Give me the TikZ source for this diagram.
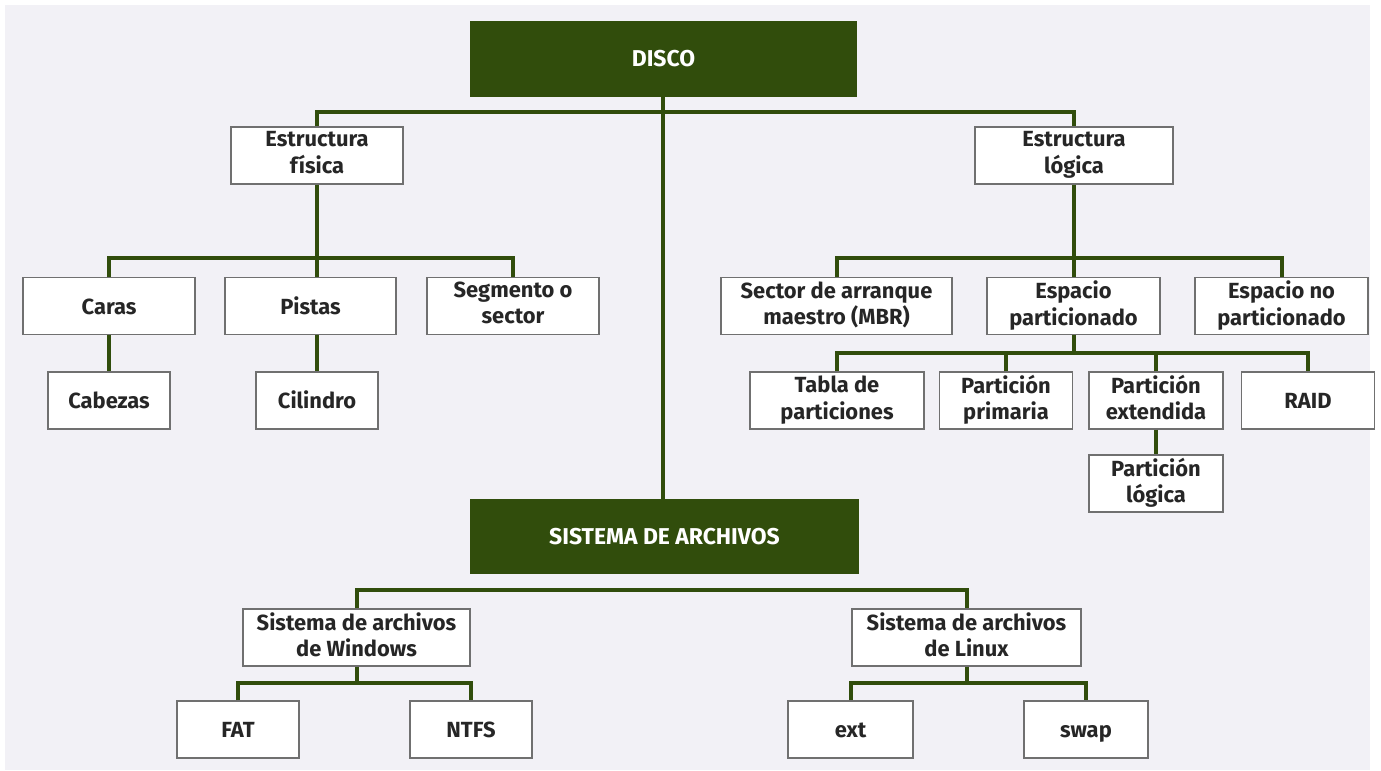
\documentclass[tikz,border=0pt]{standalone}
\usepackage{fontspec}
\setmainfont{Fira Sans}
\begin{document}
\definecolor{panel}{HTML}{F2F1F6}
\definecolor{dgreen}{HTML}{314D0C}
\definecolor{edge}{HTML}{707070}
\begin{tikzpicture}[x=1bp,y=-1bp,
  every node/.style={inner sep=0pt, align=center,
    font=\bfseries\fontsize{22}{26.5}\selectfont,
    execute at begin node=\rule{0pt}{22bp},
    execute at end node=\rule[-6bp]{0pt}{0pt}},
  topbox/.style={rectangle, fill=dgreen, text=white, minimum height=75bp,
    font=\bfseries\fontsize{23}{26}\selectfont},
  leaf/.style={rectangle, fill=white, draw=edge, line width=1.3bp, text=black!85,
    minimum height=57bp},
  twoline/.style={yshift=-2bp},
  link/.style={draw=dgreen, line width=4bp}]
\useasboundingbox (0,0) rectangle (1381,770);
\fill[white] (0,0) rectangle (1381,770);
\fill[panel] (5,5) rectangle (1370,770);

% heads
\node[topbox, minimum width=387bp] (disco) at (663.5,59) {DISCO};
\node[topbox, minimum width=389bp] (sis) at (664.5,536.5) {SISTEMA DE ARCHIVOS};

% physical structure
\node[leaf, minimum width=172bp] (fis) at (317,155.5) {Estructura\\física};
\node[leaf, minimum width=172bp] (caras) at (109,306) {Caras};
\node[leaf, minimum width=171bp] (pistas) at (310.5,306) {Pistas};
\node[leaf, minimum width=172bp] (segm) at (513,306) {Segmento o\\sector};
\node[leaf, minimum width=122bp] (cabezas) at (109,400.5) {Cabezas};
\node[leaf, minimum width=122bp] (cilindro) at (317,400.5) {Cilindro};

% logical structure
\node[leaf, minimum width=198bp] (log) at (1074,155.5) {Estructura\\lógica};
\node[leaf, minimum width=231bp] (mbr) at (836.5,306) {Sector de arranque\\maestro (MBR)};
\node[leaf, minimum width=173bp] (esp) at (1073.5,306) {Espacio\\particionado};
\node[leaf, minimum width=173bp] (espno) at (1281.5,306) {Espacio no\\particionado};
\node[leaf, minimum width=174bp] (tabla) at (837,400.5) {Tabla de\\particiones};
\node[leaf, minimum width=133bp] (prim) at (1006,400.5) {Partición\\primaria};
\node[leaf, minimum width=134bp] (extd) at (1156,400.5) {Partición\\extendida};
\node[leaf, minimum width=133bp] (raid) at (1308,400.5) {RAID};
\node[leaf, minimum width=134bp] (plog) at (1156,483.5) {Partición\\lógica};

% file systems
\node[leaf, minimum width=227bp] (win) at (356.5,637.5) {Sistema de archivos\\de Windows};
\node[leaf, minimum width=229bp] (lin) at (966.5,637.5) {Sistema de archivos\\de Linux};
\node[leaf, minimum width=122bp] (fat) at (238,729.5) {FAT};
\node[leaf, minimum width=122bp] (ntfs) at (471,729.5) {NTFS};
\node[leaf, minimum width=125bp] (ext) at (850.5,729.5) {ext};
\node[leaf, minimum width=124bp] (swap) at (1086,729.5) {swap};

% bus levels
\coordinate (discobus) at (663,112);
\coordinate (fisbus) at (317,258);
\coordinate (logbus) at (1074,258);
\coordinate (espbus) at (1074,353);
\coordinate (sisbus) at (664,590);
\coordinate (winbus) at (356,683);
\coordinate (linbus) at (966,683);

% DISCO
\draw[link] (fis.north) |- (discobus) -| (log.north);
\draw[link] (disco.south -| discobus) -- (sis.north -| discobus);
% physical
\draw[link] (caras.north) |- (fisbus) -| (segm.north);
\draw[link] (fis.south) -- (fis.south |- pistas.north);
\draw[link] (caras.south) -- (cabezas.north);
\draw[link] (pistas.south -| cilindro.north) -- (cilindro.north);
% logical
\draw[link] (mbr.north) |- (logbus) -| (espno.north);
\draw[link] (log.south) -- (log.south |- esp.north);
\draw[link] (tabla.north) |- (espbus) -| (raid.north);
\draw[link] (esp.south) -- (esp.south |- espbus);
\draw[link] (prim.north) -- (prim.north |- espbus);
\draw[link] (extd.north) -- (extd.north |- espbus);
\draw[link] (extd.south) -- (plog.north);
% file systems
\draw[link] (win.north) |- (sisbus) -| (lin.north);
\draw[link] (fat.north) |- (winbus) -| (ntfs.north);
\draw[link] (win.south) -- (win.south |- winbus);
\draw[link] (ext.north) |- (linbus) -| (swap.north);
\draw[link] (lin.south) -- (lin.south |- linbus);
\end{tikzpicture}
\end{document}
